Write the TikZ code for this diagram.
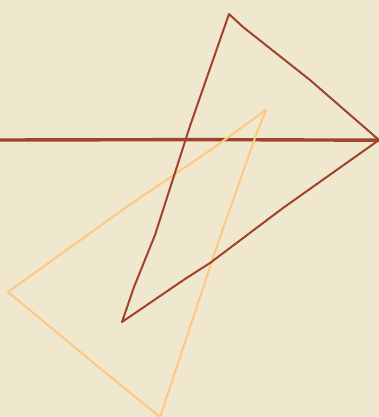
\documentclass[tikz,border=0pt]{standalone}
\usepackage{tikz}
\usetikzlibrary{calc}
\definecolor{skpaper}{RGB}{239,232,206}
\definecolor{skbrown}{RGB}{160,67,42}
\definecolor{skorange}{RGB}{255,200,130}

\begin{document}
\begin{tikzpicture}[x=1pt, y=-1pt,
    sketch/.style={line cap=round, line join=round},
    axisline/.style={sketch, skbrown, line width=3.4pt},
    browntri/.style={sketch, skbrown, line width=2pt},
    orangetri/.style={sketch, skorange, line width=2pt}]
  % Paper
  \fill[skpaper] (0,0) rectangle (379,417);
  \useasboundingbox (0,0) rectangle (379,417);

  % Horizontal line
  \draw[axisline] (0,140) -- (200,139.6) -- (379,140.2);

  % Orange triangle
  \draw[orangetri] (266,110) -- (212,149) -- (125,208) -- (8,292)
    -- (90,360) -- (160,417) -- (218,243) -- (256,135) -- cycle;

  % Brown triangle
  \draw[browntri] (229,14) -- (243,27) -- (310,80) -- (379,140)
    -- (283,208) -- (210,263) -- (185,279) -- (122,322)
    -- (134,287) -- (155,235) -- (190,126) -- cycle;
\end{tikzpicture}
\end{document}
